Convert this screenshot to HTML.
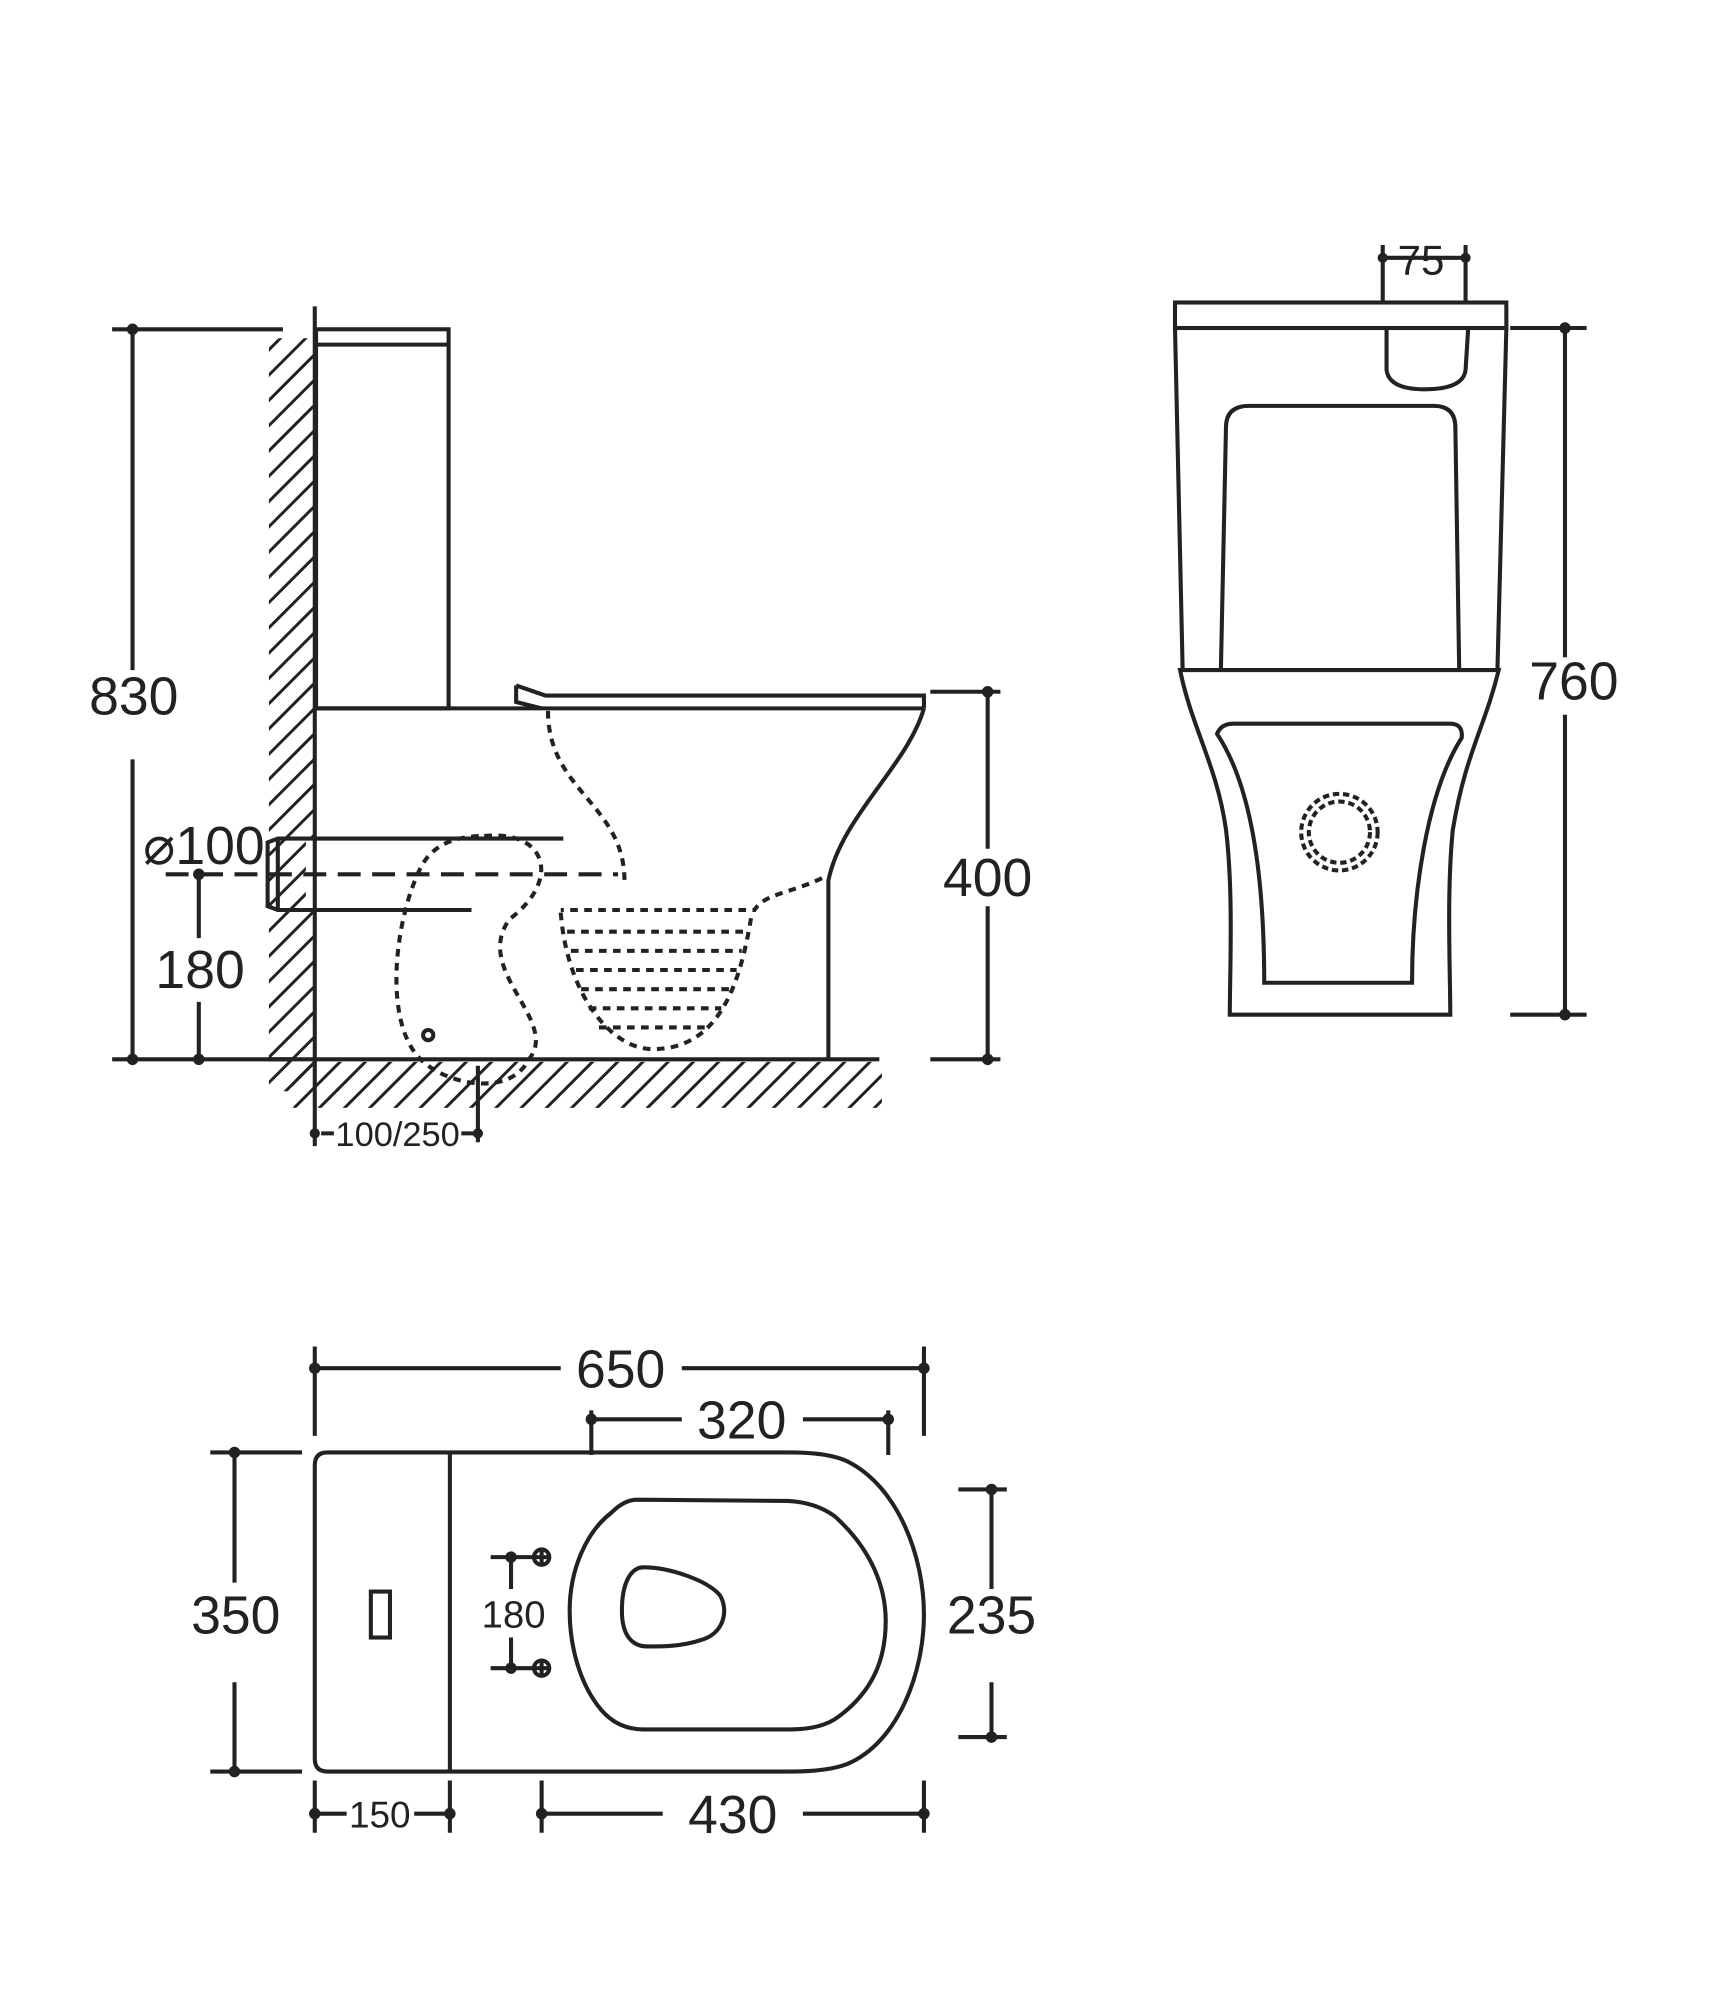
<!DOCTYPE html>
<html><head><meta charset="utf-8"><style>html,body{margin:0;padding:0;background:#fff}svg{display:block}</style></head>
<body>
<svg width="1723" height="2000" viewBox="0 0 1352 1567" preserveAspectRatio="none" xmlns="http://www.w3.org/2000/svg">
<defs>
<pattern id="h" width="14" height="14" patternUnits="userSpaceOnUse" patternTransform="rotate(-45)">
<line x1="0" y1="7" x2="14" y2="7" stroke="#222" stroke-width="2.4"/></pattern>
</defs>
<g fill="none" stroke="#222" stroke-width="3.2" font-family="Liberation Sans, sans-serif">
<!-- SIDE VIEW -->
<rect x="211" y="265" width="36" height="590" fill="url(#h)" stroke="none"/>
<rect x="230" y="832" width="462" height="36" fill="url(#h)" stroke="none"/>
<rect x="240" y="657" width="20" height="56" fill="#fff" stroke="none"/>
<line x1="247" y1="240" x2="247" y2="898"/>
<rect x="248" y="258" width="104" height="297"/>
<line x1="248" y1="270" x2="352" y2="270"/>
<line x1="248" y1="555" x2="725" y2="555"/>
<path d="M405 537 L405 550 L425 555 M405 537 L428 545 L725 545 L725 555"/>
<path d="M725 555 C712 600 660 640 650 690 L650 830"/>
<line x1="210" y1="830" x2="690" y2="830"/>
<path d="M442 657 L218 657 L210 660 L210 710 L218 713 L370 713"/>
<line x1="218" y1="657" x2="218" y2="713"/>
<line x1="130" y1="685" x2="485" y2="685" stroke-dasharray="18,9"/>
<g stroke-dasharray="6,5">
<path d="M430 557 C430 620 490 630 490 690"/>
<path d="M645 688 C620 700 600 700 592 713 L440 713"/>
<path d="M380 655 C430 650 440 690 400 720 C370 760 440 800 415 830 C400 860 350 850 330 830 C300 800 310 720 330 680 C340 660 360 655 380 655Z"/>
<path d="M440 715 C445 780 480 822 512 822 C560 822 580 780 590 715"/>
<path d="M445 730 H585 M448 745 H582 M452 760 H578 M456 775 H574 M462 790 H566 M470 805 H556"/>
</g>
<circle cx="336" cy="811" r="4"/>
<!-- dims side -->
<path d="M88 258 H222 M104 258 V525 M104 595 V830 M88 830 H230"/>
<path d="M730 542 H785 M775 542 V665 M775 710 V830 M730 830 H785"/>
<path d="M156 685 V735 M156 785 V830"/>
<path d="M375 835 V895 M252 888 H262 M362 888 H375"/>
<g fill="#222" stroke="none">
<circle cx="104" cy="258" r="4.5"/><circle cx="104" cy="830" r="4.5"/>
<circle cx="775" cy="542" r="4.5"/><circle cx="775" cy="830" r="4.5"/>
<circle cx="156" cy="685" r="4.5"/><circle cx="156" cy="830" r="4.5"/>
<circle cx="247" cy="888" r="4"/><circle cx="375" cy="888" r="4"/>
<circle cx="1085" cy="202" r="4"/><circle cx="1150" cy="202" r="4"/>
<circle cx="1228" cy="257" r="4.5"/><circle cx="1228" cy="795" r="4.5"/>
<circle cx="247" cy="1072" r="4.5"/><circle cx="725" cy="1072" r="4.5"/>
<circle cx="464" cy="1112" r="4.5"/><circle cx="697" cy="1112" r="4.5"/>
<circle cx="184" cy="1138" r="4.5"/><circle cx="184" cy="1388" r="4.5"/>
<circle cx="778" cy="1167" r="4.5"/><circle cx="778" cy="1361" r="4.5"/>
<circle cx="247" cy="1421" r="4.5"/><circle cx="353" cy="1421" r="4.5"/>
<circle cx="425" cy="1421" r="4.5"/><circle cx="725" cy="1421" r="4.5"/>
<circle cx="401" cy="1220" r="4.5"/><circle cx="401" cy="1307" r="4.5"/>
</g>
<g fill="#222" stroke="none" font-size="42">
<text x="105" y="560" text-anchor="middle">830</text>
<text x="775" y="702" text-anchor="middle">400</text>
<text x="160" y="677" text-anchor="middle">⌀100</text>
<text x="157" y="774" text-anchor="middle">180</text>
<text x="312" y="898" text-anchor="middle" font-size="27">100/250</text>
<text x="1115" y="215" text-anchor="middle" font-size="33">75</text>
<text x="1235" y="548" text-anchor="middle">760</text>
<text x="487" y="1087" text-anchor="middle">650</text>
<text x="582" y="1127" text-anchor="middle">320</text>
<text x="185" y="1280" text-anchor="middle">350</text>
<text x="778" y="1280" text-anchor="middle">235</text>
<text x="403" y="1275" text-anchor="middle" font-size="30">180</text>
<text x="298" y="1432" text-anchor="middle" font-size="29">150</text>
<text x="575" y="1436" text-anchor="middle">430</text>
</g>
<!-- FRONT VIEW -->
<rect x="922" y="237" width="260" height="20"/>
<path d="M922 257 L928 525 M1182 257 L1175 525"/>
<path d="M958 525 L962 335 Q962 318 980 318 L1125 318 Q1142 318 1142 335 L1145 525"/>
<path d="M1088 258 L1088 290 Q1090 305 1118 305 Q1148 305 1150 290 L1152 258"/>
<path d="M1085 202 H1150 M1085 192 V237 M1150 192 V237"/>
<path d="M1185 257 H1245 M1228 257 V515 M1228 560 V795 M1185 795 H1245"/>
<path d="M926 525 L1176 525 C1165 570 1150 590 1140 650 C1135 700 1138 760 1138 795 L965 795 C965 760 968 700 962 650 C955 600 935 570 926 525Z"/>
<path d="M955 575 Q958 567 968 567 L1138 567 Q1148 567 1147 578 C1120 620 1108 700 1108 770 L992 770 C992 700 985 620 955 575Z"/>
<circle cx="1051" cy="652" r="30" stroke-dasharray="5,3"/>
<circle cx="1051" cy="652" r="24" stroke-dasharray="5,3"/>
<!-- TOP VIEW -->
<path d="M247 1055 V1125 M725 1055 V1125 M247 1072 H440 M535 1072 H725"/>
<path d="M464 1105 V1140 M697 1105 V1140 M464 1112 H535 M630 1112 H697"/>
<path d="M257 1138 L620 1138 Q650 1138 665 1145 C705 1165 725 1220 725 1265 C725 1310 705 1365 665 1382 Q650 1388 620 1388 L257 1388 Q247 1388 247 1378 L247 1148 Q247 1138 257 1138Z"/>
<line x1="353" y1="1138" x2="353" y2="1388"/>
<rect x="291" y="1247" width="15" height="36"/>
<path d="M500 1175 L618 1176 Q640 1177 655 1188 C685 1215 695 1245 695 1270 C695 1300 685 1325 658 1345 Q645 1355 620 1355 L505 1355 Q485 1355 472 1340 C455 1320 447 1290 447 1262 C447 1230 460 1200 480 1185 Q490 1175 500 1175Z"/>
<path d="M505 1228 C525 1228 555 1238 565 1250 C572 1262 568 1280 550 1285 C535 1290 520 1290 508 1290 C495 1290 488 1280 488 1262 C488 1240 495 1228 505 1228Z"/>
<path d="M385 1220 H418 M385 1307 H418 M401 1220 V1245 M401 1283 V1307"/>
<circle cx="425" cy="1220" r="6"/><path d="M419 1220 H431 M425 1214 V1226"/>
<circle cx="425" cy="1307" r="6"/><path d="M419 1307 H431 M425 1301 V1313"/>
<path d="M165 1138 H237 M184 1138 V1240 M184 1318 V1388 M165 1388 H237"/>
<path d="M752 1167 H790 M778 1167 V1245 M778 1318 V1361 M752 1361 H790"/>
<path d="M247 1395 V1436 M353 1395 V1436 M247 1421 H272 M325 1421 H353"/>
<path d="M425 1395 V1436 M725 1395 V1436 M425 1421 H520 M630 1421 H725"/>
</g>
</svg>
</body></html>
